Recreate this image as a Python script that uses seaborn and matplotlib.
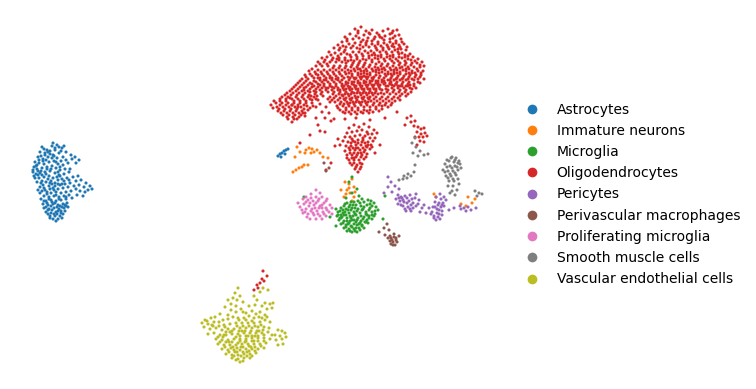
import numpy as np
import pandas as pd
import matplotlib
matplotlib.use('Agg')
import matplotlib.pyplot as plt
import seaborn as sns

# embedding positions, as flat x,y pairs
astro_xy = [
42,147,47,150,52,146,57,145,62,148,66,152,71,155,75,157,79,160,72,159,76,163,40,152,45,155,50,151,55,150,59,153,63,157,38,157,
43,159,48,157,53,155,57,158,61,161,66,160,35,162,39,163,44,164,49,162,54,161,58,164,63,165,34,167,37,169,42,168,47,167,52,166,
56,168,60,170,65,169,33,172,36,174,40,173,45,172,50,171,55,173,59,175,64,174,69,172,35,178,39,178,44,177,49,176,53,178,58,180,
62,179,67,178,73,177,78,176,37,182,41,183,46,182,51,181,55,183,60,185,65,184,70,183,76,181,81,180,86,183,90,186,92,189,40,187,
44,188,49,186,53,188,58,189,63,188,68,187,74,186,79,185,84,187,88,190,85,192,80,191,76,189,42,191,47,192,51,193,56,192,61,193,
66,192,71,191,77,195,83,196,44,196,49,197,54,196,59,197,64,196,69,195,41,199,46,201,51,200,56,201,61,200,66,199,72,198,43,204,
48,205,53,204,58,205,63,204,67,203,44,208,49,209,54,208,59,209,64,208,68,207,46,212,51,213,56,212,61,213,65,211,50,216,55,216,
60,216,63,214,53,219,58,219,48,210,57,207,52,202,47,194,55,186,60,176,42,175,37,165,48,152,64,146,34,176,38,190,62,184,50,183,
46,174,58,172,43,161,54,156,61,211,66,206,52,210,57,214,47,203,62,207,
44,149,55,148,50,154,41,156,46,160,56,162,36,166,41,171,51,169,38,175,48,179,57,177,43,185,52,184,45,190,54,190,49,199,59,199,
55,203,46,207,51,206,60,206,65,205,48,214,54,214,58,211,62,218,50,218,56,221,44,201,66,197,42,181,38,171,33,170,52,158,60,167,
64,181,69,180,56,195,50,189,58,184,47,169,39,160,45,153,53,143,59,147,61,151,68,163,70,169,40,193,
# small blue group beside the orange cells
278,156,280,154,282,153,284,151,286,150,288,149,281,157,285,154,
]
imm_xy = [
306,150,309,148,312,149,314,152,317,150,311,153,305,153,297,147,295,157,323,157,320,153,328,158,300,152,293,172,296,170,299,168,
302,167,304,165,308,165,349,184,352,179,345,182,354,187,347,190,350,193,354,197,344,197,349,188,341,190,355,192,434,194,436,197,
468,197,472,203,475,199,466,206,461,204,352,201,346,194,
]
micro_xy = [
349,182,357,189,346,198,352,193,359,196,345,204,351,202,356,205,362,199,368,200,374,203,341,208,346,209,352,208,358,209,364,207,
370,208,376,207,338,212,343,213,349,213,354,212,360,213,366,212,372,212,337,216,342,217,347,218,353,216,358,218,364,217,369,216,
375,214,339,220,344,221,350,221,356,222,361,221,367,220,372,219,341,224,346,225,351,226,357,225,362,225,368,223,344,228,349,229,
354,229,359,228,364,228,347,231,352,232,357,232,340,218,336,209,378,210,350,205,356,215,348,224,362,210,343,210,354,220,365,222,
366,214,346,215,351,218,359,224,353,205,341,215,374,216,370,204,360,203,347,203,
344,206,349,207,355,208,361,206,367,205,372,206,340,211,345,212,351,210,357,211,363,209,369,210,375,211,338,215,344,215,350,216,
355,214,361,216,367,215,372,215,341,218,347,221,352,220,357,220,363,219,369,218,343,223,349,223,354,224,360,223,366,222,346,227,
352,227,356,228,362,226,350,231,355,231,360,230,348,210,354,202,358,201,364,202,371,201,
# stray cells around the group
304,197,330,217,385,196,383,219,336,226,352,177,
]
oligo_xy = [
355,29,361,27,366,31,372,30,358,33,350,34,345,37,364,35,370,34,377,33,383,31,388,29,393,31,397,30,390,34,385,36,380,37,395,36,
399,35,375,37,368,38,359,38,353,39,347,41,342,42,338,45,343,46,349,44,355,43,361,42,366,43,372,41,378,42,384,40,390,39,396,41,
401,39,404,44,399,45,393,44,387,45,381,46,375,46,369,47,363,47,357,48,351,48,345,50,339,50,334,48,329,52,335,53,341,54,347,54,
353,52,359,52,365,51,371,51,377,50,383,50,389,49,395,50,401,49,406,50,410,54,405,55,399,54,393,55,387,54,381,55,375,55,369,56,
363,56,357,57,351,57,345,58,339,58,333,58,327,57,322,58,318,62,324,62,330,62,336,62,342,62,348,61,354,61,360,61,366,60,372,60,
378,59,384,59,390,59,396,59,402,58,408,59,413,57,418,59,422,62,417,63,412,63,406,63,400,63,394,63,388,64,382,64,376,64,370,65,
364,65,358,65,352,65,346,66,340,66,334,66,328,66,322,66,316,66,312,69,318,70,324,70,330,70,336,70,342,70,348,70,354,69,360,69,
366,69,372,69,378,68,384,68,390,68,396,68,402,67,408,67,414,67,420,67,424,66,423,71,418,71,412,71,406,71,400,72,394,72,388,72,
382,72,376,72,370,73,364,73,358,73,352,74,346,74,340,74,334,74,328,74,322,74,316,74,310,74,305,75,302,79,308,79,314,78,320,78,
326,78,332,78,338,78,344,78,350,78,356,78,362,77,368,77,374,77,380,76,386,76,392,76,398,76,404,76,410,75,416,75,421,75,424,79,
418,79,412,79,406,80,400,80,394,80,388,80,382,80,376,81,370,81,364,81,358,81,352,82,346,82,340,82,334,82,328,82,322,82,316,82,
310,83,304,83,298,83,294,87,300,87,306,87,312,87,318,87,324,86,330,86,336,86,342,86,348,86,354,85,360,85,366,85,372,85,378,85,
384,84,390,84,396,84,402,84,408,84,414,84,420,83,416,88,410,88,404,88,398,88,392,88,386,89,380,89,374,89,368,89,362,89,356,89,
350,90,344,90,338,90,332,90,326,90,320,90,314,91,308,91,302,91,296,91,290,91,285,95,291,95,297,95,303,95,309,95,315,94,321,94,
333,94,339,94,345,94,351,94,357,93,363,93,369,93,375,93,381,93,387,92,393,92,399,92,405,92,411,92,406,96,400,96,394,97,388,97,
382,97,376,97,370,97,364,97,358,97,352,98,346,98,340,98,334,98,328,99,316,99,310,99,304,99,298,99,292,99,286,99,280,99,276,103,
282,103,288,103,294,103,300,103,306,103,312,103,335,102,341,102,347,102,353,102,359,102,365,101,371,101,377,101,383,101,389,101,
395,101,400,100,271,105,277,107,283,107,289,107,295,107,301,107,307,106,313,106,337,106,343,106,349,106,355,106,361,105,367,105,
373,105,379,105,385,105,391,105,278,111,284,111,290,111,296,111,302,111,308,110,340,110,346,110,352,110,358,110,364,110,370,110,
376,109,382,109,283,115,289,115,295,115,301,115,345,113,351,114,357,114,363,113,369,113,288,119,294,119,292,122,320,104,326,107,
330,102,322,112,329,113,316,118,325,118,

# denser core
352,76,358,75,364,76,370,75,376,75,349,80,355,79,361,79,367,79,373,79,379,78,346,84,352,84,358,83,364,83,370,83,376,83,382,82,
343,88,349,88,355,87,361,87,367,87,373,87,379,87,340,92,346,92,352,92,358,91,364,91,370,91,376,91,343,96,349,96,355,96,361,95,
367,95,373,95,345,100,351,100,357,100,363,99,369,99,348,104,354,104,360,103,366,103,355,71,361,71,367,71,373,71,379,70,385,70,
391,70,397,70,403,70,409,69,388,74,394,74,400,74,406,74,412,73,391,78,397,78,403,78,409,77,415,77,385,83,391,82,397,82,403,82,
409,82,388,86,394,86,400,86,406,86,351,67,357,67,363,67,369,67,375,67,381,66,387,66,393,66,399,65,405,65,411,65,362,54,368,53,
374,53,380,52,386,52,392,52,398,52,360,45,366,45,372,44,378,44,384,43,390,42,396,43,388,47,394,47,400,47,339,60,345,60,351,60,
357,59,363,59,369,58,375,58,381,57,387,57,393,57,399,57,405,57,318,75,324,76,330,76,336,76,342,76,314,81,320,80,326,80,332,80,
338,80,304,90,310,89,316,89,322,88,328,88,334,88,290,98,296,97,302,97,308,97,314,97,280,105,286,105,292,105,298,105,304,105,
287,113,293,113,299,113,305,113,

# second pass over the main body, between the first marks
358,31,369,33,379,35,392,33,347,39,356,36,363,40,374,39,382,38,393,38,402,42,340,48,346,47,353,46,360,49,367,41,376,48,383,48,
392,46,398,49,407,47,331,55,338,56,344,52,350,55,356,55,372,55,378,56,390,56,402,53,408,56,415,61,325,60,332,60,337,59,346,63,
353,63,359,63,365,63,372,62,379,62,385,61,392,61,398,61,405,61,411,60,420,65,320,64,327,64,333,68,339,68,345,68,351,71,358,69,
364,71,376,70,382,69,394,70,400,68,406,69,417,69,309,71,315,72,321,72,327,72,333,72,339,72,345,72,349,73,361,74,367,74,379,73,
385,74,391,74,397,73,409,73,415,73,421,73,306,77,312,76,318,78,324,80,330,78,336,79,342,80,348,77,354,78,360,77,366,77,372,78,
378,81,384,78,390,80,396,79,402,79,408,79,414,80,420,77,300,81,306,81,312,84,318,84,324,84,330,84,336,84,342,84,348,83,354,82,
360,83,366,82,372,81,378,83,384,81,390,83,396,84,402,86,408,86,414,86,418,82,296,85,302,85,308,85,314,86,320,85,326,88,332,87,
338,88,344,86,350,87,356,86,362,86,368,85,374,85,380,85,386,86,392,85,398,86,410,85,292,89,298,89,304,88,310,92,316,92,322,92,
328,92,334,92,340,90,346,89,352,89,358,89,364,89,370,89,376,89,382,90,388,90,394,90,400,90,406,90,412,89,287,93,293,93,299,93,
305,93,311,96,317,96,323,96,330,97,336,96,342,95,348,94,354,93,360,93,366,93,372,93,378,94,384,94,390,94,396,94,402,94,408,94,
282,97,288,97,294,101,300,101,306,101,312,100,318,100,332,100,338,100,344,99,350,99,356,98,362,98,368,98,374,99,380,99,386,99,
392,99,398,98,274,101,280,101,286,101,292,105,298,107,304,109,310,108,316,107,338,108,344,104,350,103,356,102,362,102,368,102,
374,103,380,103,386,103,392,103,273,108,279,109,285,109,291,109,297,109,303,113,340,104,346,108,352,108,358,108,364,107,370,107,
376,107,382,106,388,107,281,113,287,117,293,117,299,117,305,116,343,112,349,112,355,112,361,112,367,111,373,112,379,111,297,119,

# cluster below the main body
349,128,354,125,359,127,364,124,369,127,374,130,347,133,352,132,357,131,362,130,367,132,372,134,377,133,345,137,350,137,355,136,
360,135,365,136,370,138,375,138,343,141,348,142,353,141,358,140,363,140,368,142,373,141,335,146,340,145,346,146,351,146,356,145,
361,145,366,146,371,145,345,151,350,150,355,150,360,150,365,150,370,149,347,155,352,155,357,155,362,155,367,154,349,160,354,160,
359,160,364,159,352,165,357,165,362,164,355,169,360,169,358,172,354,158,361,153,356,148,351,143,363,138,368,134,
352,139,355,142,358,143,362,142,365,143,368,145,372,147,349,148,353,148,358,148,363,148,367,147,350,153,354,153,358,153,364,152,
347,158,352,158,356,157,361,157,366,157,350,163,354,163,360,163,356,167,361,167,

# scattered cells
318,125,331,121,345,119,356,118,370,120,385,118,397,112,411,116,325,132,310,135,338,139,300,143,331,163,326,170,320,131,375,153,
380,145,334,119,405,125,415,121,

# small group above the grey cells
407,118,411,122,414,126,418,127,421,129,424,128,417,132,421,134,425,133,419,137,423,137,427,136,415,137,420,141,424,142,417,145,
263,271,267,276,262,279,260,283,257,285,264,281,254,290,258,288,
]
peri_xy = [
391,182,395,186,399,189,392,192,388,187,384,193,398,195,396,199,401,197,405,196,410,195,415,198,400,201,404,202,409,201,413,203,
418,204,422,208,398,204,403,206,408,207,413,208,406,211,411,211,402,198,407,198,412,199,429,208,433,207,437,209,441,207,443,203,
438,205,441,199,436,197,444,197,440,194,446,200,442,211,437,213,432,212,434,216,438,217,442,215,436,220,431,214,439,210,444,206,
449,210,454,208,460,206,464,208,468,207,471,210,466,211,476,208,461,209,419,200,424,205,426,213,420,212,388,177,416,194,
399,198,403,200,407,203,411,205,401,205,405,209,410,209,416,206,435,202,439,203,442,205,435,207,439,214,434,218,440,219,
]
mac_xy = [
387,224,389,230,390,236,394,234,391,238,396,238,393,242,397,242,399,236,388,238,391,244,395,245,385,235,379,232,384,228,324,163,
329,168,326,171,392,240,394,237,390,241,393,245,396,240,
]
prolif_xy = [
316,190,320,193,311,194,306,197,316,197,322,197,327,199,303,199,308,200,313,201,318,201,324,203,330,205,298,203,304,204,309,206,
314,205,320,206,326,208,332,208,300,207,306,209,311,211,317,211,323,212,329,212,303,213,308,214,314,215,320,216,326,216,332,214,
310,219,316,219,322,219,312,209,319,208,307,217,
311,198,319,199,326,201,306,202,316,203,322,205,302,210,310,203,315,208,322,208,327,210,305,212,313,213,318,214,324,214,
]
smooth_xy = [
399,180,403,179,407,178,411,176,414,172,408,174,404,176,415,165,452,157,456,158,449,161,454,162,459,161,445,164,450,166,455,166,
460,164,443,170,448,171,453,171,458,170,446,176,451,176,456,175,449,181,454,181,458,179,448,186,453,186,459,184,452,191,457,190,
455,195,450,193,475,191,479,193,482,194,477,196,412,143,416,147,420,151,413,153,424,155,418,156,428,154,415,138,
447,160,451,158,455,160,458,163,447,167,452,168,457,167,461,168,445,172,450,174,455,173,448,178,453,179,
]
vascular_xy = [
238,288,235,293,240,296,233,298,228,300,237,300,243,302,231,304,236,306,225,307,241,309,231,310,236,312,265,303,270,304,272,308,
262,306,267,309,273,303,260,312,265,315,259,317,254,318,249,316,244,318,238,318,233,317,228,319,220,314,215,317,211,318,205,320,
202,323,208,324,214,322,219,322,224,325,230,324,236,323,242,323,248,323,254,323,260,322,265,320,270,322,204,327,210,329,216,328,
222,330,228,329,234,329,240,328,246,328,252,328,258,327,264,327,269,328,208,334,214,333,220,335,226,335,232,334,238,334,244,333,
250,333,256,333,262,333,268,332,272,335,216,339,222,340,228,340,234,339,240,339,246,339,252,338,258,338,264,338,270,339,218,344,
224,345,230,345,236,345,242,344,248,344,254,344,260,344,266,343,222,349,228,350,234,350,240,350,246,349,252,349,258,349,264,348,
226,354,232,355,238,355,244,354,250,354,256,353,232,358,238,359,244,358,250,358,240,362,235,352,241,347,247,352,229,342,236,337,
242,331,248,336,254,341,223,337,230,332,238,343,245,342,251,347,255,336,233,347,259,331,275,335,278,330,282,331,285,333,280,336,
276,340,282,339,286,337,278,345,283,344,246,313,252,311,256,314,249,306,255,305,243,312,268,290,263,288,260,292,254,296,257,300,
226,332,232,331,237,326,243,326,249,326,255,326,261,325,225,327,219,326,213,326,207,321,239,331,245,331,251,331,257,331,263,330,
220,342,226,342,232,342,240,341,246,341,252,341,258,341,264,341,225,347,231,348,237,348,243,347,249,346,255,347,261,346,229,352,
237,352,243,352,249,351,255,351,234,356,241,356,247,356,252,356,236,360,243,361,224,335,218,337,240,336,246,336,252,336,258,336,
264,335,262,318,267,317,228,315,223,320,212,325,239,320,246,320,252,321,
]

cell_types = ['Astrocytes', 'Immature neurons', 'Microglia', 'Oligodendrocytes', 'Pericytes',
              'Perivascular macrophages', 'Proliferating microglia', 'Smooth muscle cells',
              'Vascular endothelial cells']
palette = ['#1f77b4', '#ff7f0e', '#2ca02c', '#d62728', '#9467bd', '#8c564b', '#e377c2', '#7f7f7f', '#bcbd22']
all_xy = [astro_xy, imm_xy, micro_xy, oligo_xy, peri_xy, mac_xy, prolif_xy, smooth_xy, vascular_xy]

frames = []
for name, xy in zip(cell_types, all_xy):
    pts = np.array(xy, dtype=float).reshape(-1, 2)
    frames.append(pd.DataFrame({'UMAP1': pts[:, 0], 'UMAP2': pts[:, 1], 'cell_type': name}))
df = pd.concat(frames, ignore_index=True)

sns.set_theme(style='white', font='DejaVu Sans')
fig = plt.figure(figsize=(7.56, 3.89), dpi=100)
ax = fig.add_axes([0, 0, 1, 1])
sns.scatterplot(data=df, x='UMAP1', y='UMAP2', hue='cell_type', hue_order=cell_types,
                palette=palette, s=5, linewidth=0, ax=ax)
ax.set_xlim(0, 756)
ax.set_ylim(389, 0)
ax.set_axis_off()

leg = ax.legend(loc='center left', bbox_to_anchor=(0.6765, 0.5), frameon=False, fontsize=10,
                handletextpad=0.76, labelspacing=0.52, borderpad=0, labelcolor='black')
for h in leg.legend_handles:
    h.set_markersize(7)

fig.savefig('out.png', dpi=100)
